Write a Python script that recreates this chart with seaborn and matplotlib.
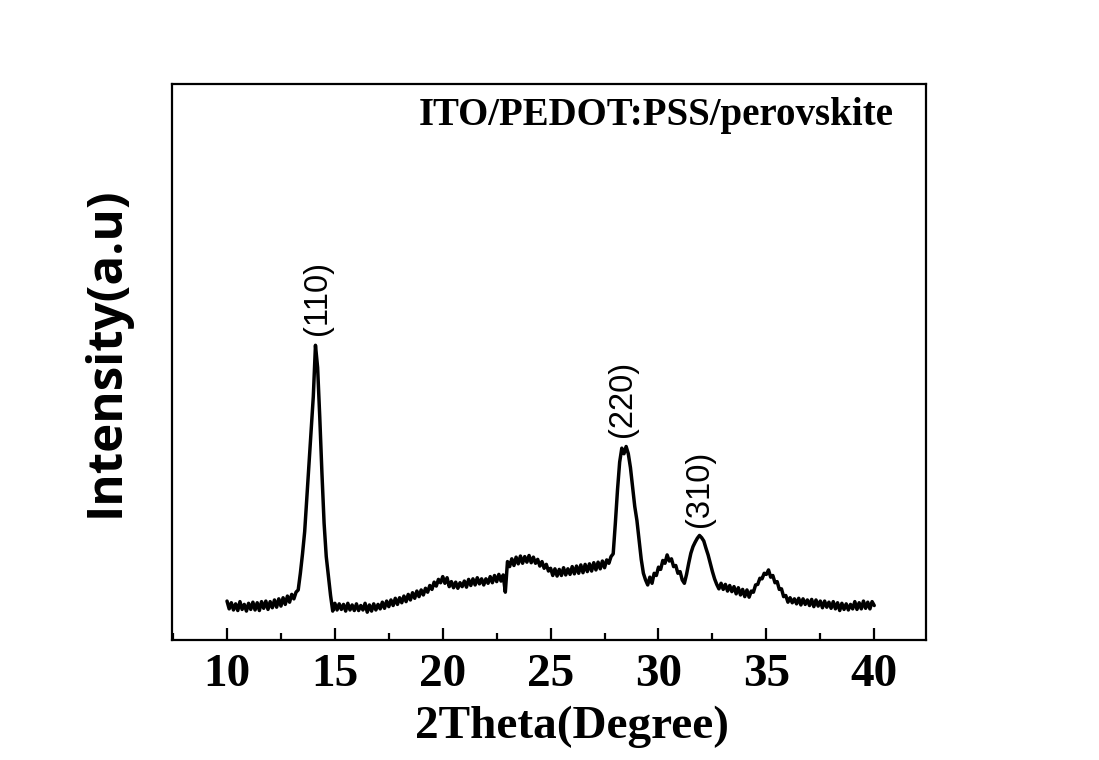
import numpy as np
import pandas as pd
import matplotlib
matplotlib.use("Agg")
import matplotlib.pyplot as plt
import seaborn as sns
from matplotlib.ticker import MultipleLocator

# ---- data (2theta grid 10..40 step 0.1) ----
two_theta = np.round(np.linspace(10.0, 40.0, 301), 1)

intensity = [
    # 10.0-10.9
    7.0, 5.6, 6.7, 5.4, 6.5, 5.3, 6.9, 5.5, 6.4, 5.2,
    # 11.0-11.9
    6.6, 5.5, 6.8, 5.4, 6.7, 5.3, 6.9, 5.7, 7.0, 5.5,
    # 12.0-12.9
    6.9, 5.8, 7.2, 5.9, 7.4, 6.1, 7.6, 6.4, 7.9, 6.8,
    # 13.0-13.9
    8.2, 7.4, 8.6, 9.0, 12.0, 15.5, 19.5, 25.5, 31.6, 37.7,
    # 14.0-14.9
    43.8, 53.0, 49.0, 40.0, 30.0, 21.0, 15.0, 11.5, 8.0, 5.2,
    # 15.0-15.9
    6.6, 5.4, 6.5, 5.5, 6.4, 5.2, 6.6, 5.4, 6.3, 5.3,
    # 16.0-16.9
    6.5, 5.3, 6.2, 5.4, 6.6, 5.0, 6.3, 5.2, 6.5, 5.4,
    # 17.0-17.9
    6.4, 5.6, 6.8, 5.7, 7.0, 6.0, 7.2, 6.2, 7.5, 6.4,
    # 18.0-18.9
    7.6, 6.7, 7.9, 6.9, 8.2, 7.2, 8.5, 7.5, 8.8, 7.8,
    # 19.0-19.9
    9.0, 8.1, 9.3, 8.6, 9.8, 9.1, 10.4, 9.7, 10.9, 10.3,
    # 20.0-20.9
    11.4, 10.2, 11.2, 9.6, 10.5, 9.4, 10.4, 9.3, 10.3, 9.6,
    # 21.0-21.9
    10.6, 9.5, 10.9, 9.8, 11.0, 9.9, 11.2, 10.1, 11.0, 9.9,
    # 22.0-22.9
    11.0, 10.2, 11.4, 10.3, 11.6, 10.5, 11.8, 10.6, 11.7, 8.6,
    # 23.0-23.9
    14.1, 13.2, 14.6, 13.4, 14.9, 13.7, 15.1, 13.8, 15.0, 14.0,
    # 24.0-24.9
    15.2, 13.9, 14.9, 13.8, 14.5, 13.3, 14.1, 12.9, 13.6, 12.4,
    # 25.0-25.9
    12.9, 11.6, 12.8, 11.5, 12.7, 11.6, 13.0, 11.7, 12.8, 11.8,
    # 26.0-26.9
    13.2, 11.9, 13.3, 12.0, 13.5, 12.1, 13.6, 12.3, 13.7, 12.4,
    # 27.0-27.9
    13.9, 12.6, 14.0, 12.8, 14.2, 13.0, 14.4, 13.8, 15.0, 15.5,
    # 28.0-28.9
    21.0, 27.0, 32.0, 34.5, 33.5, 34.8, 33.5, 31.0, 27.5, 24.0,
    # 29.0-29.9
    21.5, 18.0, 14.5, 12.0, 10.8, 9.9, 11.3, 10.2, 12.0, 11.6,
    # 30.0-30.9
    13.1, 12.7, 14.3, 13.8, 15.3, 14.2, 14.6, 13.2, 13.4, 12.0,
    # 31.0-31.9
    12.3, 10.8, 10.2, 11.8, 13.8, 15.6, 16.8, 17.6, 18.3, 18.8,
    # 32.0-32.9
    18.4, 17.8, 16.5, 15.3, 13.8, 12.3, 11.0, 10.0, 9.2, 10.2,
    # 33.0-33.9
    9.1, 10.0, 8.8, 9.8, 8.7, 9.6, 8.3, 9.4, 8.1, 9.1,
    # 34.0-34.9
    7.8, 9.0, 7.7, 8.8, 8.6, 9.9, 10.0, 11.1, 11.0, 12.0,
    # 35.0-35.9
    11.8, 12.6, 11.3, 11.6, 10.3, 10.5, 9.1, 9.2, 7.8, 8.0,
    # 36.0-36.9
    6.8, 7.6, 6.7, 7.4, 6.5, 7.5, 6.3, 7.4, 6.4, 7.2,
    # 37.0-37.9
    6.2, 7.3, 6.0, 7.2, 6.1, 7.0, 5.8, 7.0, 5.9, 6.8,
    # 38.0-38.9
    5.7, 6.9, 5.6, 6.7, 5.3, 6.6, 5.5, 6.5, 5.4, 6.4,
    # 39.0-39.9
    5.6, 6.9, 5.5, 6.7, 5.6, 7.0, 5.7, 6.8, 5.6, 6.9,
    # 40.0
    6.2,
]

peak_labels = ["(110)", "(220)", "(310)"]
peak_x = [14.2, 28.35, 31.88]
peak_y = [54.9, 36.5, 20.3]

xtick_values = [10, 15, 20, 25, 30, 35, 40]

df = pd.DataFrame({"two_theta": two_theta, "intensity": intensity})

# ---- figure ----
sns.set_theme(style="ticks")
plt.rcParams["font.family"] = ["Liberation Serif", "DejaVu Serif"]
plt.rcParams["text.color"] = "black"
plt.rcParams["axes.labelcolor"] = "black"
plt.rcParams["xtick.color"] = "black"
plt.rcParams["ytick.color"] = "black"
plt.rcParams["axes.edgecolor"] = "black"

fig = plt.figure(figsize=(10.99, 7.60), dpi=100)
ax = fig.add_axes([0.1565, 0.1579, 0.6861, 0.7316])

sns.lineplot(data=df, x="two_theta", y="intensity", ax=ax,
             color="black", linewidth=2.5, estimator=None, sort=False)

ax.set_xlim(7.45, 42.4)
ax.set_ylim(0, 100)

ax.set_xticks(xtick_values)
ax.set_xticklabels([str(v) for v in xtick_values])
ax.xaxis.set_minor_locator(MultipleLocator(2.5))
ax.set_yticks([])

ax.tick_params(axis="x", which="major", direction="in", length=9, width=1.6,
               pad=10, labelsize=34, top=False, colors="black")
ax.tick_params(axis="x", which="minor", direction="in", length=5, width=1.6,
               top=False, colors="black")
for lab in ax.get_xticklabels():
    lab.set_fontweight("bold")
    lab.set_fontfamily(["Liberation Serif", "DejaVu Serif"])

for sp in ax.spines.values():
    sp.set_linewidth(1.6)
    sp.set_color("black")

ax.set_xlabel("2Theta(Degree)", fontsize=34, fontweight="bold",
              family=["Liberation Serif", "DejaVu Serif"], labelpad=7,
              color="black")
ax.xaxis.label.set_x(0.53)
ax.set_ylabel("Intensity(a.u)", fontsize=35.5, fontweight="bold",
              family=["Open Sans", "DejaVu Sans"], labelpad=30, color="black")
ax.yaxis.label.set_y(0.518)

ax.text(0.957, 0.926, "ITO/PEDOT:PSS/perovskite", transform=ax.transAxes,
        ha="right", va="baseline", fontsize=28, fontweight="bold",
        color="black", family=["Liberation Serif", "DejaVu Serif"])

for lab, px, py in zip(peak_labels, peak_x, peak_y):
    ax.text(px, py, lab, rotation=90, ha="center", va="bottom",
            fontsize=23.5, color="black",
            family=["Liberation Sans", "DejaVu Sans"])

fig.savefig("out.png", dpi=100, facecolor="white")
